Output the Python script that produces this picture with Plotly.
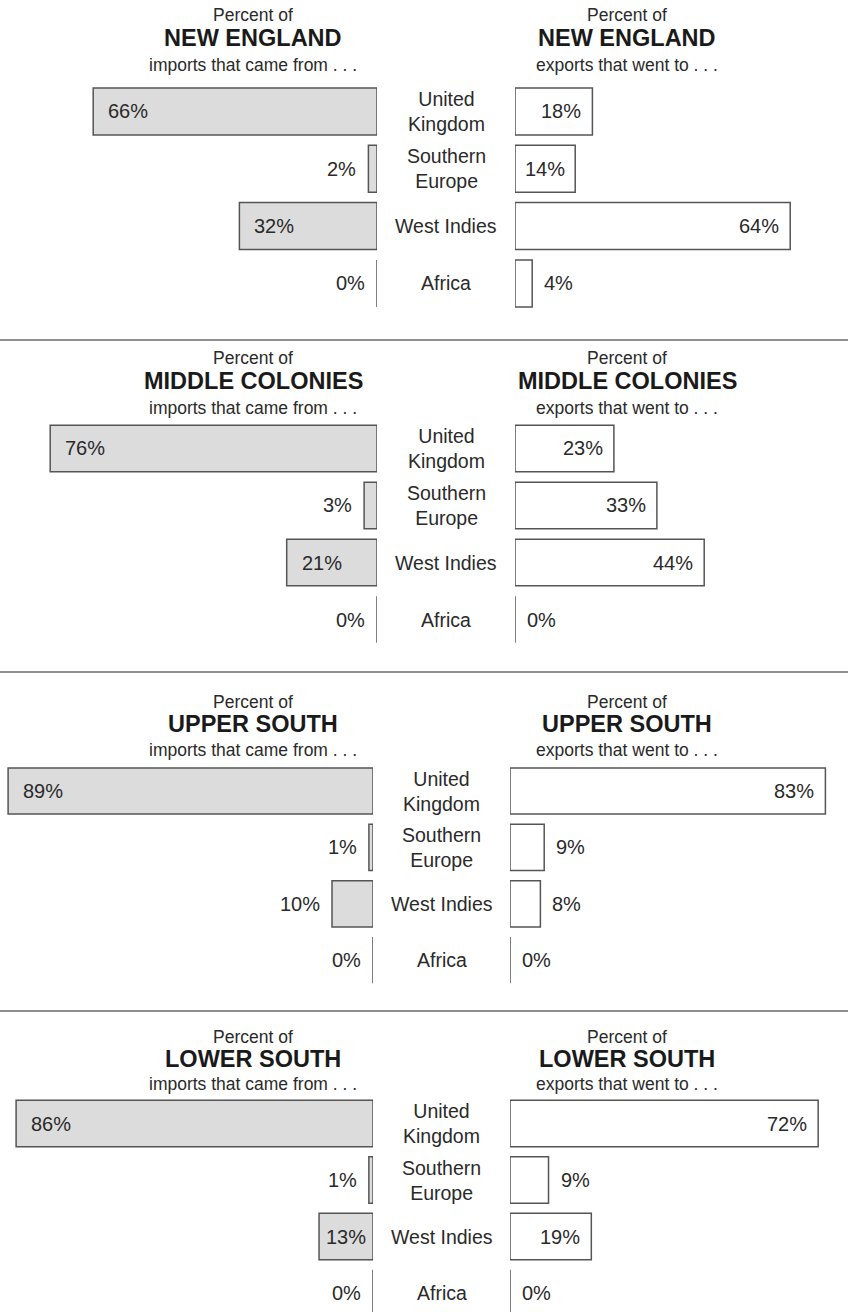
import plotly.graph_objects as go

# ---------------- data ----------------
regions = ["NEW ENGLAND", "MIDDLE COLONIES", "UPPER SOUTH", "LOWER SOUTH"]
partner_labels = ["United<br>Kingdom", "Southern<br>Europe", "West Indies", "Africa"]

imports_new_england = [66, 2, 32, 0]
exports_new_england = [18, 14, 64, 4]
imports_middle_colonies = [76, 3, 21, 0]
exports_middle_colonies = [23, 33, 44, 0]
imports_upper_south = [89, 1, 10, 0]
exports_upper_south = [83, 9, 8, 0]
imports_lower_south = [86, 1, 13, 0]
exports_lower_south = [72, 9, 19, 0]

imports = [imports_new_england, imports_middle_colonies, imports_upper_south, imports_lower_south]
exports = [exports_new_england, exports_middle_colonies, exports_upper_south, exports_lower_south]

# ---------------- layout params (pixels) ----------------
W, H = 848, 1312
pivot_left = [377, 377, 373, 373]
pivot_right = [515, 515, 510, 510]
px_per_pct_left = [4.3, 4.3, 4.1, 4.15]
px_per_pct_right = [4.3, 4.3, 3.8, 4.28]
row0 = [111.5, 448.5, 791, 1123.5]
row_step = [57.3, 57.0, 56.4, 56.5]
title_y = [(15, 38.5, 65), (358, 381, 408), (702, 724, 750), (1037, 1059, 1084)]
title_x_left, title_x_right = 253, 627
sep_y = [340, 672, 1011]
bar_width = 0.82
inside_min = 12      # values at or above this get the label inside the bar
center_below_px = 70  # inside labels of bars narrower than this are centred

FONT = "Liberation Sans, Arial, sans-serif"
IMPORT_FILL = "#dcdcdc"
EXPORT_FILL = "#ffffff"
EDGE = "#555555"
TXT = "#2a2a2a"

fig = go.Figure()
annotations = []
layout_axes = {}


def value_label(v, k, xname, yname, scale, side):
    inside = v >= inside_min
    bar_px = v * scale
    if inside and bar_px < center_below_px:
        x, anchor, shift = v / 2, "center", 0
    elif inside:
        x = v
        anchor, shift = ("left", 13) if side == "L" else ("right", -9)
    else:
        x = v
        anchor, shift = ("right", -10) if side == "L" else ("left", 10)
    return dict(x=x, y=k, xref=xname, yref=yname, text=f"{v}%", showarrow=False,
                xanchor=anchor, xshift=shift, yanchor="middle",
                font=dict(family=FONT, size=20, color=TXT))


for i in range(4):
    xl = 2 * i + 1
    xr = 2 * i + 2
    yn = i + 1
    xl_name = "x" if xl == 1 else f"x{xl}"
    xr_name = f"x{xr}"
    y_name = "y" if yn == 1 else f"y{yn}"

    top_px = row0[i] - 0.5 * row_step[i]
    bot_px = min(row0[i] + 3.5 * row_step[i], H)
    y_hi = (bot_px - row0[i]) / row_step[i]
    ydom = [1 - bot_px / H, 1 - top_px / H]

    axis_common = dict(showgrid=False, zeroline=False, showticklabels=False,
                       showline=False, ticks="", fixedrange=True)
    layout_axes["xaxis" if xl == 1 else f"xaxis{xl}"] = dict(
        domain=[0, pivot_left[i] / W],
        range=[pivot_left[i] / px_per_pct_left[i], 0],
        anchor=y_name, **axis_common)
    layout_axes[f"xaxis{xr}"] = dict(
        domain=[pivot_right[i] / W, 1],
        range=[0, (W - pivot_right[i]) / px_per_pct_right[i]],
        anchor=y_name, **axis_common)
    layout_axes["yaxis" if yn == 1 else f"yaxis{yn}"] = dict(
        domain=ydom, range=[y_hi, -0.5], anchor=xl_name, **axis_common)

    cats = list(range(len(partner_labels)))

    fig.add_trace(go.Bar(
        x=imports[i], y=cats, orientation="h", width=bar_width,
        xaxis=xl_name, yaxis=y_name,
        marker=dict(color=IMPORT_FILL, line=dict(color=EDGE, width=1.5)),
        hoverinfo="skip", showlegend=False))
    fig.add_trace(go.Bar(
        x=exports[i], y=cats, orientation="h", width=bar_width,
        xaxis=xr_name, yaxis=y_name,
        marker=dict(color=EXPORT_FILL, line=dict(color=EDGE, width=1.5)),
        hoverinfo="skip", showlegend=False))

    for k, v in enumerate(imports[i]):
        annotations.append(value_label(v, k, xl_name, y_name, px_per_pct_left[i], "L"))
    for k, v in enumerate(exports[i]):
        annotations.append(value_label(v, k, xr_name, y_name, px_per_pct_right[i], "R"))

    mid_x = (pivot_left[i] + pivot_right[i]) / 2 / W
    for k, lab in enumerate(partner_labels):
        annotations.append(dict(
            x=mid_x, y=k, xref="paper", yref=y_name, text=lab, showarrow=False,
            xanchor="center", yanchor="middle", align="center",
            font=dict(family=FONT, size=19.5, color=TXT)))

    for tx, sub in ((title_x_left, "imports that came from . . ."),
                    (title_x_right, "exports that went to . . .")):
        t1, t2, t3 = title_y[i]
        annotations.append(dict(x=tx / W, y=1 - t1 / H, xref="paper", yref="paper",
                                text="Percent of", showarrow=False, xanchor="center",
                                yanchor="middle", font=dict(family=FONT, size=17.5, color=TXT)))
        annotations.append(dict(x=tx / W, y=1 - t2 / H, xref="paper", yref="paper",
                                text=f"<b>{regions[i]}</b>", showarrow=False, xanchor="center",
                                yanchor="middle", font=dict(family=FONT, size=23.5, color="#1a1a1a")))
        annotations.append(dict(x=tx / W, y=1 - t3 / H, xref="paper", yref="paper",
                                text=sub, showarrow=False, xanchor="center",
                                yanchor="middle", font=dict(family=FONT, size=17.5, color=TXT)))

shapes = [dict(type="line", xref="paper", yref="paper", x0=0, x1=1,
               y0=1 - s / H, y1=1 - s / H, line=dict(color="#6a6a6a", width=1.5))
          for s in sep_y]

fig.update_layout(
    width=W, height=H,
    margin=dict(l=0, r=0, t=0, b=0),
    paper_bgcolor="white", plot_bgcolor="rgba(0,0,0,0)",
    barmode="overlay", showlegend=False,
    annotations=annotations, shapes=shapes,
    font=dict(family=FONT),
    **layout_axes)

fig.write_html("out.html", config={"displayModeBar": False},
               post_script="document.body.style.margin='0';document.body.style.overflow='hidden';")
